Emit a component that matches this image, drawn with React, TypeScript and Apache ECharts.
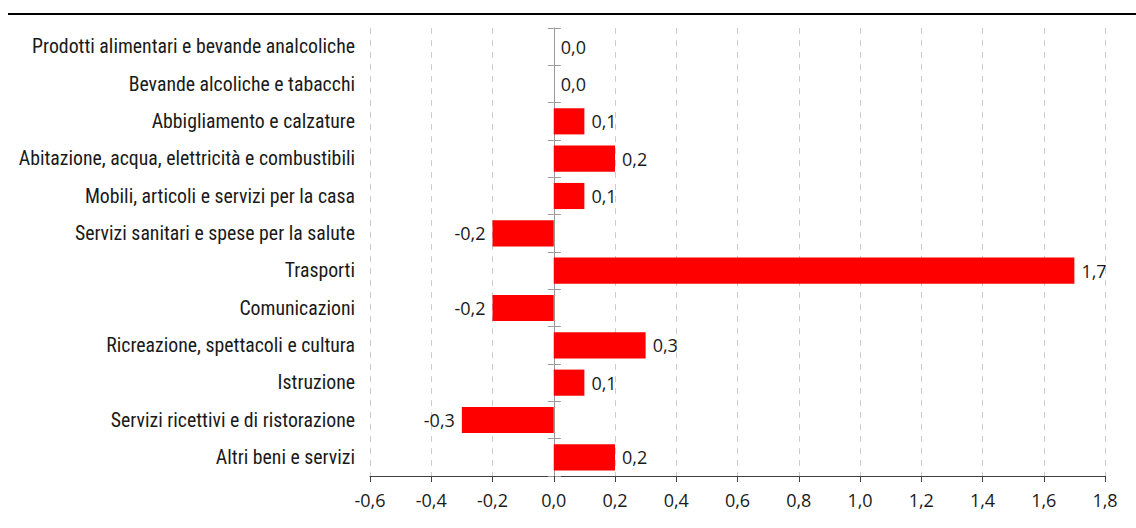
import React, { useEffect, useRef } from "react";
import * as echarts from "echarts";

const categories = [
  "Prodotti alimentari e bevande analcoliche",
  "Bevande alcoliche e tabacchi",
  "Abbigliamento e calzature",
  "Abitazione, acqua, elettricità e combustibili",
  "Mobili, articoli e servizi per la casa",
  "Servizi sanitari e spese per la salute",
  "Trasporti",
  "Comunicazioni",
  "Ricreazione, spettacoli e cultura",
  "Istruzione",
  "Servizi ricettivi e di ristorazione",
  "Altri beni e servizi",
];
const values = [0.0, 0.0, 0.1, 0.2, 0.1, -0.2, 1.7, -0.2, 0.3, 0.1, -0.3, 0.2];
const xMin = -0.6;
const xMax = 1.8;
const xStep = 0.2;

const CAT_FONT = "'Roboto Condensed', 'Liberation Sans Narrow', sans-serif";
const NUM_FONT = "'Open Sans', sans-serif";
const fmt = (v: number) => v.toFixed(1).replace(".", ",");

const GRID_LEFT = 370;
const GRID_RIGHT = 31;
const CHART_W = 1136;

export default function App() {
  const ref = useRef<HTMLDivElement>(null);
  useEffect(() => {
    const chart = echarts.init(ref.current!, null, { renderer: "svg" });
    const cats = [...categories].reverse();
    const vals = [...values].reverse();
    const plotW = CHART_W - GRID_LEFT - GRID_RIGHT;
    const zeroOffset = -((0 - xMin) / (xMax - xMin)) * plotW;
    chart.setOption({
      animation: false,
      textStyle: { fontFamily: CAT_FONT },
      graphic: [
        {
          type: "rect",
          shape: { x: 8, y: 13, width: 1128, height: 2 },
          style: { fill: "#000" },
        },
      ],
      grid: {
        left: GRID_LEFT,
        right: GRID_RIGHT,
        top: 28,
        bottom: 52,
        containLabel: false,
        outerBoundsMode: "none",
      },
      xAxis: {
        type: "value",
        min: xMin,
        max: xMax,
        interval: xStep,
        axisLine: { show: true, onZero: false, lineStyle: { color: "#404040", width: 1 } },
        axisTick: { show: true, length: 6, lineStyle: { color: "#404040" } },
        axisLabel: {
          formatter: (v: number) => fmt(v),
          color: "#1a1a1a",
          fontSize: 18,
          fontFamily: NUM_FONT,
          margin: 15,
        },
        splitLine: { show: true, lineStyle: { color: "#cccccc", type: [6, 6], width: 1 } },
      },
      yAxis: [
        {
          type: "category",
          data: cats,
          position: "left",
          axisLine: { show: false, onZero: false },
          axisTick: { show: false },
          axisLabel: { color: "#1a1a1a", fontSize: 19.8, fontFamily: CAT_FONT, margin: 15 },
          splitLine: { show: false },
        },
        {
          type: "category",
          data: cats,
          position: "left",
          offset: zeroOffset,
          axisLine: { show: true, onZero: false, lineStyle: { color: "#999", width: 1 } },
          axisTick: { show: true, length: 6, inside: false, lineStyle: { color: "#999" } },
          axisLabel: { show: false },
          splitLine: { show: false },
        },
        {
          type: "category",
          data: cats,
          position: "left",
          offset: zeroOffset,
          axisLine: { show: false, onZero: false },
          axisTick: { show: true, length: 7, inside: true, lineStyle: { color: "#999" } },
          axisLabel: { show: false },
          splitLine: { show: false },
        },
      ],
      series: [
        {
          type: "bar",
          yAxisIndex: 0,
          barCategoryGap: "30%",
          data: vals.map((v) => ({
            value: v,
            itemStyle: { color: "#ff0000" },
            label: {
              show: true,
              position: v < 0 ? "left" : "right",
              distance: 7,
              formatter: () => fmt(v),
              color: "#1a1a1a",
              fontSize: 18,
              fontFamily: NUM_FONT,
            },
          })),
          z: 1,
        },
      ],
    });
    return () => chart.dispose();
  }, []);
  return (
    <div
      ref={ref}
      style={{ position: "absolute", left: 0, top: 0, width: 1136, height: 528 }}
    />
  );
}
